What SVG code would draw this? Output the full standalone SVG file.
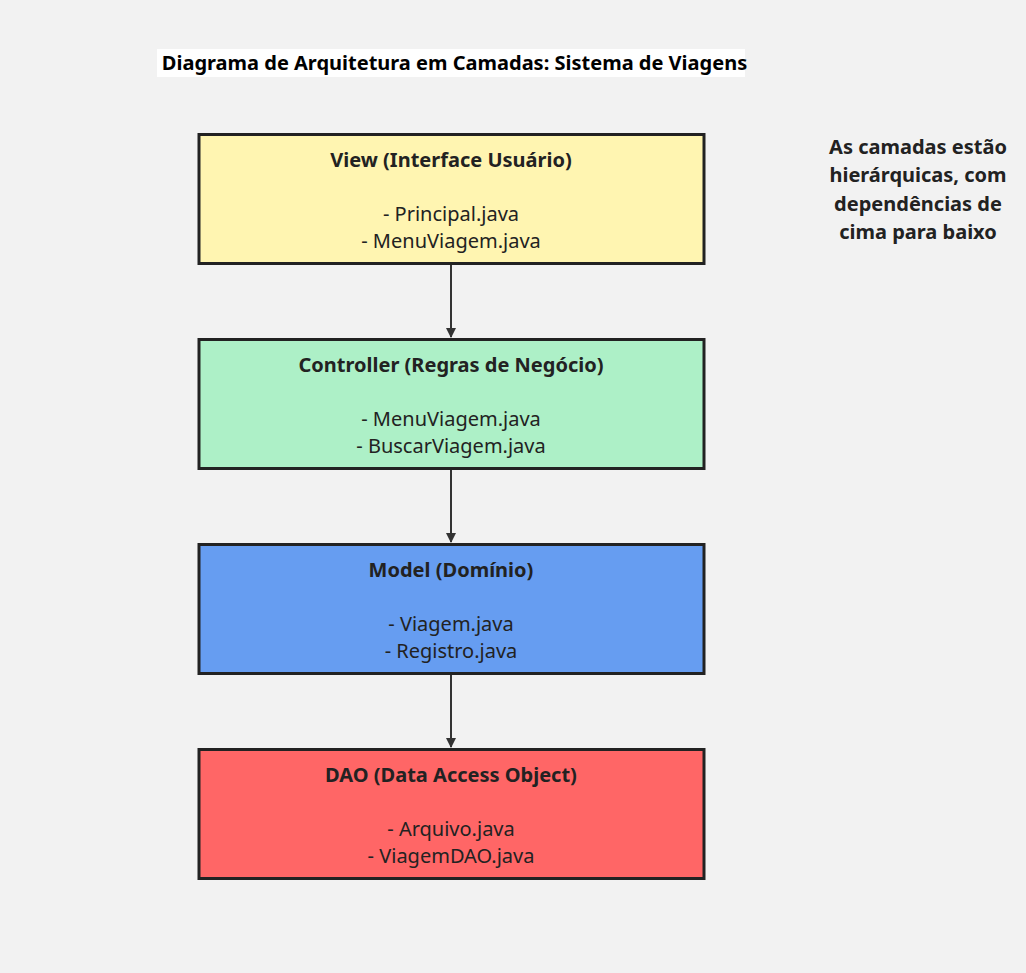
<svg xmlns="http://www.w3.org/2000/svg" width="1026" height="973" viewBox="0 0 1026 973">
<style>
.node rect{stroke:#222;stroke-width:3}
.t{font-family:"Noto Sans","Open Sans",sans-serif;font-size:20px;fill:#222;text-anchor:middle}
.b{font-weight:bold}
.edge{stroke:#333;stroke-width:2;fill:none}
</style>
<defs>
<marker id="arr" viewBox="0 0 10 10" refX="9" refY="5" markerWidth="5" markerHeight="5" orient="auto">
<path d="M0,0 L10,5 L0,10 z" fill="#333"/>
</marker>
</defs>
<rect width="1026" height="973" fill="#f2f2f2"/>
<g id="title">
<rect x="157" y="49" width="588" height="28" fill="#fff"/>
<text class="t b" x="454.5" y="70" style="fill:#000">Diagrama de Arquitetura em Camadas: Sistema de Viagens</text>
</g>
<g id="note">
<text class="t b" x="918" y="154">As camadas estão</text>
<text class="t b" x="918" y="182">hierárquicas, com</text>
<text class="t b" x="918" y="211">dependências de</text>
<text class="t b" x="918" y="239">cima para baixo</text>
</g>
<g id="edges">
<line class="edge" x1="451" y1="265" x2="451" y2="337" marker-end="url(#arr)"/>
<line class="edge" x1="451" y1="470" x2="451" y2="542" marker-end="url(#arr)"/>
<line class="edge" x1="451" y1="675" x2="451" y2="747" marker-end="url(#arr)"/>
</g>
<g id="view" class="node">
<rect x="199" y="134.5" width="505" height="129" fill="#fff5b1"/>
<text class="t b" x="451" y="167">View (Interface Usuário)</text>
<text class="t" x="451" y="221">- Principal.java</text>
<text class="t" x="451" y="248">- MenuViagem.java</text>
</g>
<g id="controller" class="node">
<rect x="199" y="339.5" width="505" height="129" fill="#adf0c7"/>
<text class="t b" x="451" y="372">Controller (Regras de Negócio)</text>
<text class="t" x="451" y="426">- MenuViagem.java</text>
<text class="t" x="451" y="453">- BuscarViagem.java</text>
</g>
<g id="model" class="node">
<rect x="199" y="544.5" width="505" height="129" fill="#669df1"/>
<text class="t b" x="451" y="577">Model (Domínio)</text>
<text class="t" x="451" y="631">- Viagem.java</text>
<text class="t" x="451" y="658">- Registro.java</text>
</g>
<g id="dao" class="node">
<rect x="199" y="749.5" width="505" height="129" fill="#ff6666"/>
<text class="t b" x="451" y="782">DAO (Data Access Object)</text>
<text class="t" x="451" y="836">- Arquivo.java</text>
<text class="t" x="451" y="863">- ViagemDAO.java</text>
</g>
</svg>
